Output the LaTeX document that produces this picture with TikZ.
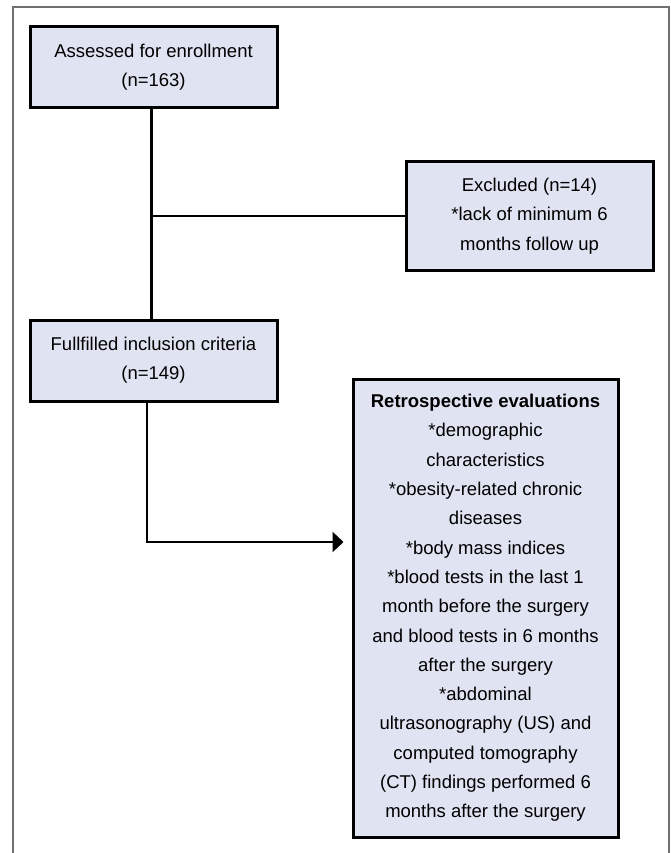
\documentclass[tikz,border=0pt]{standalone}
\usepackage{fontspec}
\setmainfont{Liberation Sans}
\usetikzlibrary{arrows.meta,calc}
\definecolor{boxfill}{RGB}{224,227,242}
\definecolor{framegray}{RGB}{112,112,112}
\begin{document}
\begin{tikzpicture}[x=1pt,y=-1pt,
  flowbox/.style={draw=black,line width=3pt,fill=boxfill,inner sep=0pt,align=center,
    font=\fontsize{18.5pt}{29.3pt}\selectfont},
  link/.style={line width=2.5pt,draw=black},
  framebox/.style={line width=2pt,draw=framegray}]
\useasboundingbox (0,0) rectangle (671,853);
\draw[framebox] (13,856) -- (13,7) -- (669,7) -- (669,856);
\node[flowbox,minimum width=247pt,minimum height=81pt] (b1) at (153.5,67.5)
  {Assessed for enrollment\\(n=163)};
\node[flowbox,minimum width=247pt,minimum height=81pt] (b2) at (153.5,360.5)
  {Fullfilled inclusion criteria\\(n=149)};
\node[flowbox,minimum width=247pt,minimum height=108pt] (ex) at (529.5,216)
  {Excluded (n=14)\\*lack of minimum 6\\months follow up};
\node[flowbox,minimum width=265pt,minimum height=458pt] (b3) at (485.5,608)
  {{\bfseries Retrospective evaluations}\\*demographic\\characteristics\\*obesity-related chronic\\diseases\\*body mass indices\\*blood tests in the last 1\\month before the surgery\\and blood tests in 6 months\\after the surgery\\*abdominal\\ultrasonography (US) and\\computed tomography\\(CT) findings performed 6\\months after the surgery};
\coordinate (t1) at ([xshift=-2pt]b1.south);
\coordinate (t2) at ([xshift=-6.5pt]b2.south);
\coordinate (arr) at ([yshift=66pt]b3.west);
\draw[link] (t1) -- (t1 |- b2.north);
\draw[link] (t1 |- ex.west) -- (ex.west);
\draw[link,-{Triangle[length=11pt,width=20pt]},shorten >=8pt] (t2) |- (arr);
\end{tikzpicture}
\end{document}
